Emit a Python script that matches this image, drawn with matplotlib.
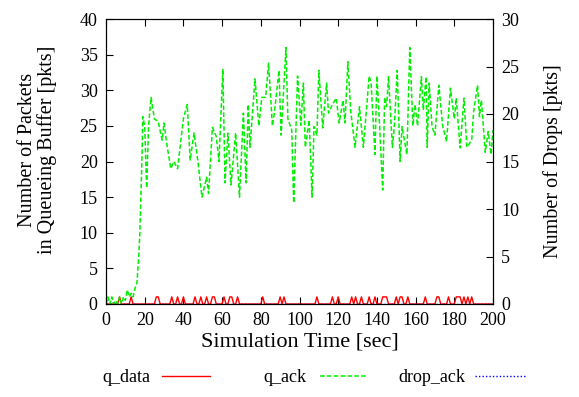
import numpy as np
import matplotlib
matplotlib.use("Agg")
import matplotlib.pyplot as plt
from matplotlib.lines import Line2D

plt.rcParams['font.family'] = ['Liberation Serif', 'DejaVu Serif']

# q_ack samples (time [sec], packets)
ack_t = [0, 1, 2, 3, 4, 5, 6, 7, 8, 9, 10, 11, 12, 13, 14, 15, 16, 17, 17.5, 18.6,
         19, 20, 21, 22, 23.3, 25, 27, 29, 30, 31.5, 33.5, 35, 37, 40, 42, 43.5,
         45.5, 47.5, 49.6, 52, 53, 55, 57, 58.4, 60.4, 61.5, 63, 64.6, 67, 69,
         71, 72.4, 73.5, 74.4, 77, 79, 80.5, 82.5, 84, 86, 87, 89.4, 90.5, 93,
         94, 96, 97, 99, 100.7, 102, 103, 105, 106.5, 107.5, 109, 110, 112, 114,
         115, 117, 119, 120.5, 122.5, 123.5, 125, 126.5, 128.7, 131, 133, 136,
         137, 139, 140, 141, 143, 144, 145, 146, 148, 149, 150.5, 152, 153,
         155.5, 157, 158.6, 159.7, 161, 163, 164, 165.4, 166, 167, 168.5, 170,
         172, 174, 176, 178, 180, 181, 183, 185, 186.5, 189, 190, 192, 193, 194,
         196, 197.5, 199, 200]
ack_v = [0, 1, 0, 1, 0, 0.5, 0, 1, 0, 1, 0.5, 2, 1, 1.5, 1, 2.2, 3, 7, 10, 20.6,
         26.3, 25, 16.3, 25, 29, 26, 25.6, 23, 25.4, 22.3, 19, 20, 19, 26, 28, 20.2,
         24, 20, 15, 17.8, 15.5, 24.8, 23.5, 20, 33, 17, 24, 16.7, 24, 15,
         26.8, 17, 28, 22, 31.6, 25, 29, 29, 33.8, 25, 26.8, 32.8, 23.7, 36,
         26, 24.4, 14.2, 32, 25.1, 31, 22, 25.8, 15, 24.9, 23.7, 32.8, 24.7, 31,
         26.8, 28, 28.9, 25.4, 28.6, 25.4, 34, 27, 22, 27.7, 22, 32,
         31, 21, 32, 27.2, 16, 29, 27.7, 32, 22, 24.9, 32.8, 20, 24.9,
         21, 36, 25, 28, 25, 31.9, 27.2, 31.9, 22, 31, 24.9, 23.7,
         30.7, 25, 22.8, 30.3, 26, 28.9, 21.9, 28.9, 22, 23, 27, 30.7, 26.3, 28.6,
         21.3, 24.2, 21, 24.4]

# seconds where q_data holds one packet
data_busy = [7, 13, 26, 27, 34, 37, 40, 46, 49, 52, 55, 56, 61, 64, 65, 68, 81,
             90, 92, 109, 117, 120, 127, 129, 132, 136, 139, 143, 144, 145,
             150, 152, 153, 156, 165, 171, 172, 177, 181, 182, 183, 185, 187, 189]

# drop_ack on the right axis: no drops during the run
drop_t = [0, 200]
drop_v = [0, 0]

labels = ['q_data', 'q_ack', 'drop_ack']

sec = np.arange(0, 201)
q_data = np.isin(sec, data_busy).astype(float)

W, H = 579, 397
fig = plt.figure(figsize=(W / 100, H / 100), dpi=100)
ax = fig.add_axes([106 / W, 1 - 304 / H, 387 / W, 285 / H])
ax2 = ax.twinx()

styles = [dict(color='#ff0000', lw=1.0),
          dict(color='#00ee00', lw=1.1, linestyle=(0, (3, 1.5))),
          dict(color='#0000ff', lw=1.0, linestyle=(0, (1, 1.5)))]

ax.plot(sec, q_data, **styles[0])
ax.plot(ack_t, ack_v, **styles[1])
ax2.plot(drop_t, drop_v, **styles[2])

ax.set_xlim(0, 200)
ax.set_ylim(0, 40)
ax2.set_ylim(0, 30)
ax.set_xticks(range(0, 201, 20))
ax.set_yticks(range(0, 41, 5))
ax2.set_yticks(range(0, 31, 5))
ax.tick_params(direction='in', length=5, labelsize=13, top=True, pad=6)
ax2.tick_params(direction='in', length=5, labelsize=13, pad=6)

ax.set_xlabel('Simulation Time [sec]', fontsize=16, labelpad=2)
ax.set_ylabel('Number of Packets\nin Queueing Buffer [pkts]', fontsize=14.5,
              linespacing=1.0)
ax.yaxis.set_label_coords(-0.127, 0.54)
ax2.set_ylabel('Number of Drops [pkts]', fontsize=14.5)
ax2.yaxis.set_label_coords(1.13, 0.5)

# key below the plot, gnuplot style: text right aligned, sample to the right
key_y = 1 - 378 / H
text_right = [150, 307, 465]
line_span = [(162, 210), (320, 368), (475, 525)]
for lab, tx, (x0, x1), st in zip(labels, text_right, line_span, styles):
    fig.text(tx / W, key_y, lab, ha='right', va='center', fontsize=13)
    fig.add_artist(Line2D([x0 / W, x1 / W], [key_y + 0.004, key_y + 0.004],
                          transform=fig.transFigure, **st))

fig.savefig('out.png', dpi=100)
